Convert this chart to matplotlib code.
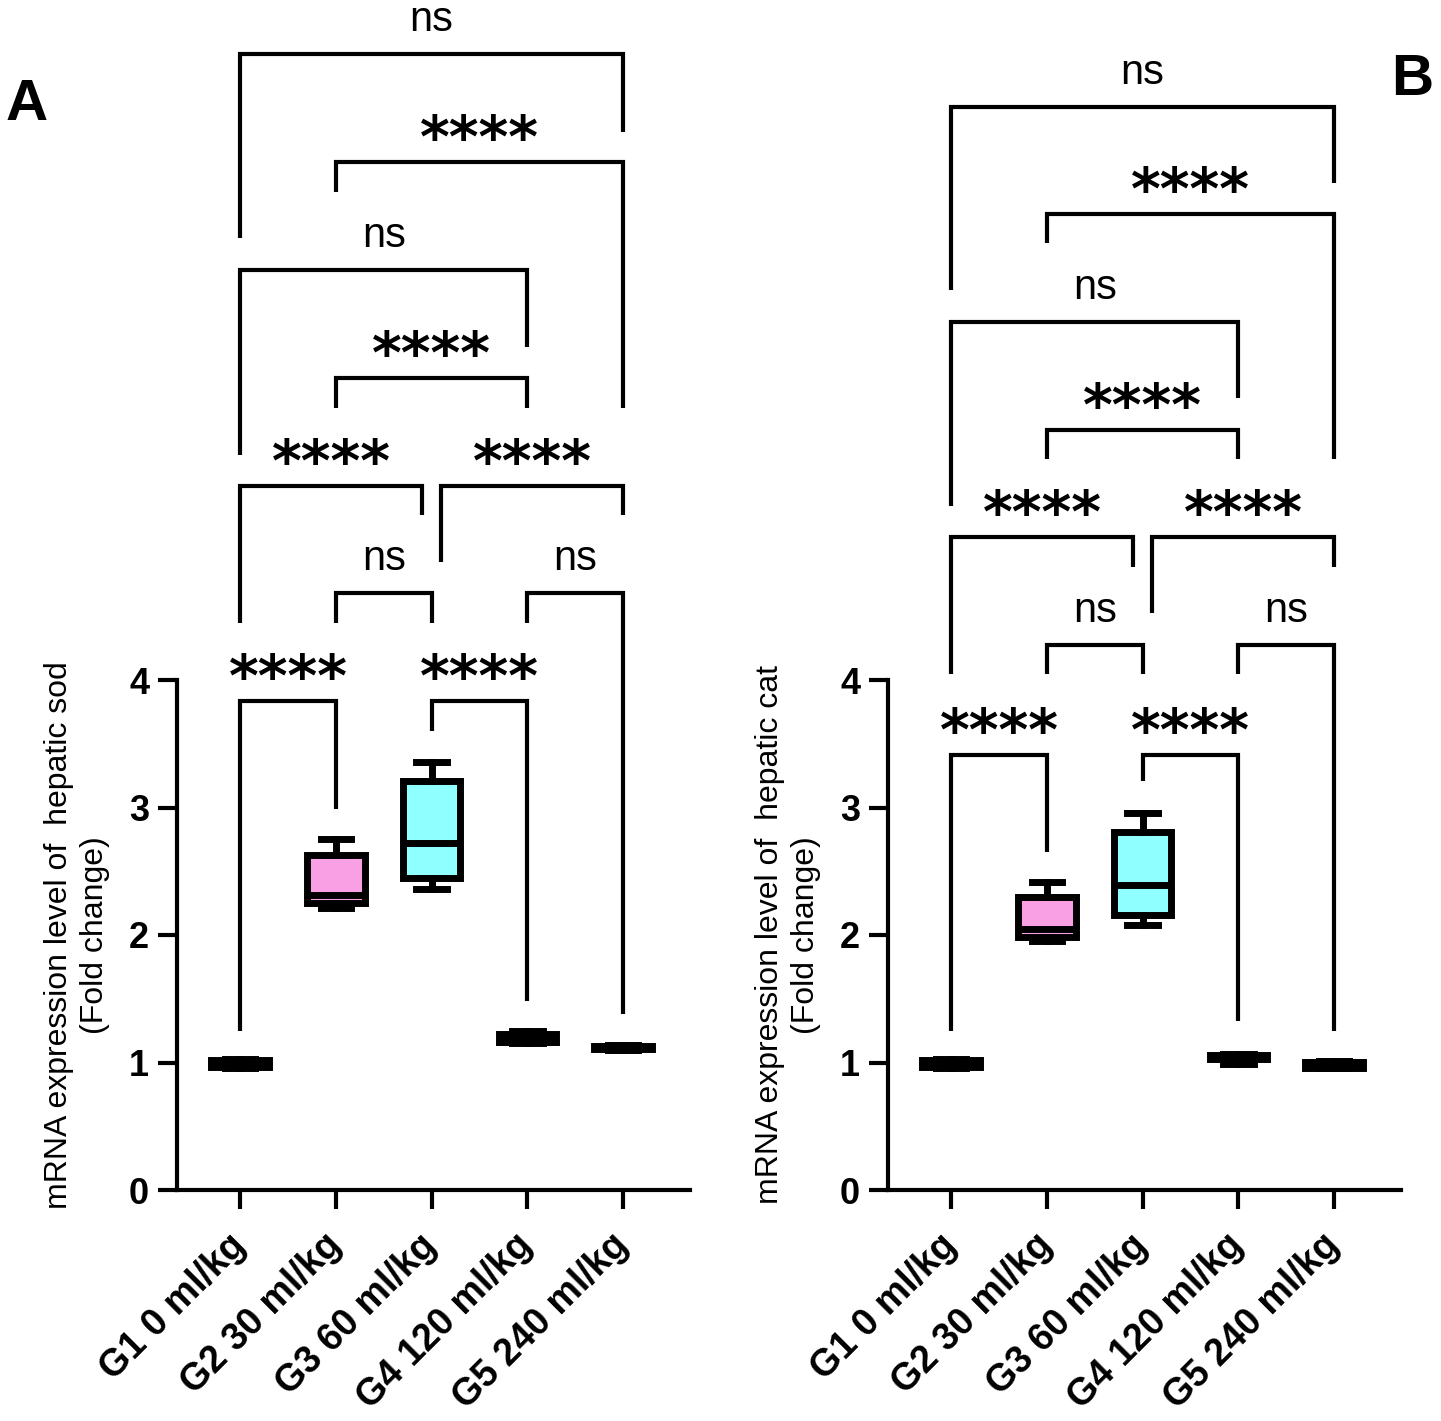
import matplotlib
matplotlib.use("Agg")
import matplotlib.pyplot as plt

plt.rcParams['font.family'] = ['Liberation Sans', 'DejaVu Sans']

# group names
groups = ["G1 0 ml/kg", "G2 30 ml/kg", "G3 60 ml/kg", "G4 120 ml/kg", "G5 240 ml/kg"]
box_colors = ["white", "#F9A0E4", "#90FFFF", "white", "white"]

# panel A, hepatic sod (fold change): box summary
sod_min = [0.96, 2.21, 2.36, 1.15, 1.10]
sod_q1 = [0.965, 2.25, 2.45, 1.16, 1.105]
sod_med = [0.99, 2.31, 2.72, 1.19, 1.12]
sod_q3 = [1.02, 2.625, 3.205, 1.22, 1.13]
sod_max = [1.025, 2.75, 3.36, 1.245, 1.135]

# panel B, hepatic cat
cat_min = [0.96, 1.95, 2.08, 0.99, 0.955]
cat_q1 = [0.965, 1.985, 2.155, 1.025, 0.96]
cat_med = [0.99, 2.045, 2.39, 1.04, 0.98]
cat_q3 = [1.02, 2.30, 2.81, 1.06, 1.005]
cat_max = [1.025, 2.415, 2.96, 1.065, 1.01]

# comparison brackets: (left x, right x, bar height, left leg end, right leg end, label)
sod_brackets = [
    (0, 1, 3.835, 1.247, 2.988, "****"),
    (2, 3, 3.835, 3.600, 1.482, "****"),
    (1, 2, 4.682, 4.447, 4.447, "ns"),
    (3, 4, 4.682, 4.447, 1.380, "ns"),
    (0, 1.9, 5.522, 4.447, 5.294, "****"),
    (2.1, 4, 5.522, 4.925, 5.294, "****"),
    (1, 3, 6.369, 6.133, 6.133, "****"),
    (0, 3, 7.216, 5.765, 6.612, "ns"),
    (1, 4, 8.063, 7.827, 6.133, "****"),
    (0, 4, 8.910, 7.467, 8.298, "ns"),
]
cat_brackets = [
    (0, 1, 3.412, 1.247, 2.651, "****"),
    (2, 3, 3.412, 3.208, 1.325, "****"),
    (1, 2, 4.275, 4.047, 4.047, "ns"),
    (3, 4, 4.275, 4.047, 1.247, "ns"),
    (0, 1.9, 5.122, 4.047, 4.886, "****"),
    (2.1, 4, 5.122, 4.525, 4.886, "****"),
    (1, 3, 5.961, 5.733, 5.733, "****"),
    (0, 3, 6.808, 5.365, 6.212, "ns"),
    (1, 4, 7.655, 7.427, 5.733, "****"),
    (0, 4, 8.494, 7.059, 7.898, "ns"),
]


def draw_panel(ax, mins, q1s, meds, q3s, maxs, brackets, ylabel):
    stats = []
    for i in range(len(groups)):
        stats.append(dict(whislo=mins[i], q1=q1s[i], med=meds[i], q3=q3s[i],
                          whishi=maxs[i], fliers=[]))
    lw = 5
    bp = ax.bxp(stats, positions=range(len(groups)), widths=0.6, capwidths=0.32,
                patch_artist=True, showfliers=False,
                boxprops=dict(linewidth=lw, edgecolor="black", joinstyle="miter"),
                whiskerprops=dict(linewidth=lw, color="black"),
                capprops=dict(linewidth=lw, color="black"),
                medianprops=dict(linewidth=lw, color="black"))
    for patch, c in zip(bp["boxes"], box_colors):
        patch.set_facecolor(c)

    for x1, x2, y, b1, b2, lab in brackets:
        ax.plot([x1, x1, x2, x2], [b1, y, y, b2], color="black", lw=3,
                clip_on=False, solid_joinstyle="miter", solid_capstyle="butt")
        xm = (x1 + x2) / 2
        if lab == "ns":
            ax.text(xm, y + 0.18, lab, ha="center", va="baseline",
                    fontsize=30, clip_on=False)
        else:
            ax.text(xm, y + 0.04, lab, ha="center", va="baseline",
                    fontsize=41, fontweight="bold", family="DejaVu Sans",
                    clip_on=False)

    ax.set_xlim(-0.66, 4.70)
    ax.set_ylim(0, 4)
    ax.set_yticks([0, 1, 2, 3, 4])
    ax.set_xticks(range(len(groups)))
    ax.set_xticklabels(groups, rotation=45, ha="right", va="center",
                       rotation_mode="anchor", fontsize=27, fontweight="bold")
    for t in ax.get_yticklabels():
        t.set_fontsize(26)
        t.set_fontweight("bold")
    ax.tick_params(axis="both", length=14, width=3, color="black")
    ax.tick_params(axis="y", pad=6)
    ax.tick_params(axis="x", pad=22)
    for side in ["top", "right"]:
        ax.spines[side].set_visible(False)
    for side in ["left", "bottom"]:
        ax.spines[side].set_linewidth(3)
    ax.set_ylabel(ylabel, fontsize=23, linespacing=1.25, labelpad=14)


fig = plt.figure(figsize=(14.41, 14.21), dpi=100)
axA = fig.add_axes([177 / 1441, 231 / 1421, 513 / 1441, 510 / 1421])
axB = fig.add_axes([888 / 1441, 231 / 1421, 513 / 1441, 510 / 1421])

draw_panel(axA, sod_min, sod_q1, sod_med, sod_q3, sod_max, sod_brackets,
           "mRNA expression level of  hepatic sod\n(Fold change)")
draw_panel(axB, cat_min, cat_q1, cat_med, cat_q3, cat_max, cat_brackets,
           "mRNA expression level of  hepatic cat\n(Fold change)")

fig.text(6 / 1441, 1 - 120 / 1421, "A", fontsize=42, fontweight="bold",
         ha="left", va="baseline")
fig.text(1391 / 1441, 1 - 95 / 1421, "B", fontsize=42, fontweight="bold",
         ha="left", va="baseline")

fig.savefig("out.png", dpi=100)
